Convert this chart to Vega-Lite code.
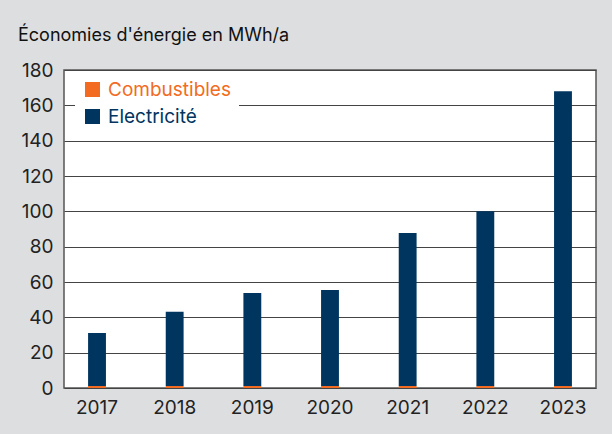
{
  "$schema": "https://vega.github.io/schema/vega-lite/v6.json",
  "autosize": {"type": "none"},
  "width": 532,
  "height": 318,
  "padding": {"left": 64, "top": 70, "right": 16, "bottom": 46},
  "background": "#dddee0",
  "title": {
    "text": "Économies d'énergie en MWh/a",
    "anchor": "start",
    "frame": "group",
    "font": "Inter",
    "fontSize": 18,
    "fontWeight": "normal",
    "color": "#111111",
    "dx": -46,
    "offset": 16
  },
  "data": {
    "values": [
      {"annee": "2017", "type": "Combustibles", "valeur": 1.2},
      {"annee": "2017", "type": "Electricité", "valeur": 30},
      {"annee": "2018", "type": "Combustibles", "valeur": 1.2},
      {"annee": "2018", "type": "Electricité", "valeur": 42},
      {"annee": "2019", "type": "Combustibles", "valeur": 1.2},
      {"annee": "2019", "type": "Electricité", "valeur": 52.6},
      {"annee": "2020", "type": "Combustibles", "valeur": 1.2},
      {"annee": "2020", "type": "Electricité", "valeur": 54.3},
      {"annee": "2021", "type": "Combustibles", "valeur": 1.2},
      {"annee": "2021", "type": "Electricité", "valeur": 86.6},
      {"annee": "2022", "type": "Combustibles", "valeur": 1.2},
      {"annee": "2022", "type": "Electricité", "valeur": 98.8},
      {"annee": "2023", "type": "Combustibles", "valeur": 1.2},
      {"annee": "2023", "type": "Electricité", "valeur": 166.8}
    ]
  },
  "mark": {"type": "bar"},
  "encoding": {
    "x": {
      "field": "annee",
      "type": "ordinal",
      "scale": {"paddingInner": 0.77, "paddingOuter": 0.31},
      "axis": {
        "title": null,
        "labelAngle": 0,
        "ticks": false,
        "domain": false,
        "labelFont": "Inter",
        "labelFontSize": 19,
        "labelColor": "#222222",
        "labelPadding": 10
      }
    },
    "y": {
      "field": "valeur",
      "type": "quantitative",
      "stack": "zero",
      "scale": {"domain": [0, 180], "nice": false},
      "axis": {
        "title": null,
        "values": [0, 20, 40, 60, 80, 100, 120, 140, 160, 180],
        "ticks": false,
        "domain": false,
        "grid": true,
        "gridColor": "#444444",
        "gridWidth": 1,
        "labelFont": "Inter",
        "labelFontSize": 19,
        "labelColor": "#222222",
        "labelPadding": 11
      }
    },
    "color": {
      "field": "type",
      "type": "nominal",
      "scale": {"domain": ["Combustibles", "Electricité"], "range": ["#f26b21", "#00355f"]},
      "legend": {
        "title": null,
        "orient": "none",
        "legendX": 11,
        "legendY": 2,
        "fillColor": "#ffffff",
        "padding": 8,
        "symbolType": "square",
        "symbolSize": 225,
        "symbolStrokeWidth": 0,
        "labelFont": "Inter",
        "labelFontSize": 19,
        "labelOffset": 6,
        "rowPadding": 7,
        "encode": {
          "labels": {"update": {"fill": {"signal": "scale('color', datum.value)"}}}
        }
      }
    },
    "order": {"field": "type", "sort": "ascending"}
  },
  "config": {
    "view": {"fill": "#ffffff", "stroke": "#555555", "strokeWidth": 1.5}
  }
}
